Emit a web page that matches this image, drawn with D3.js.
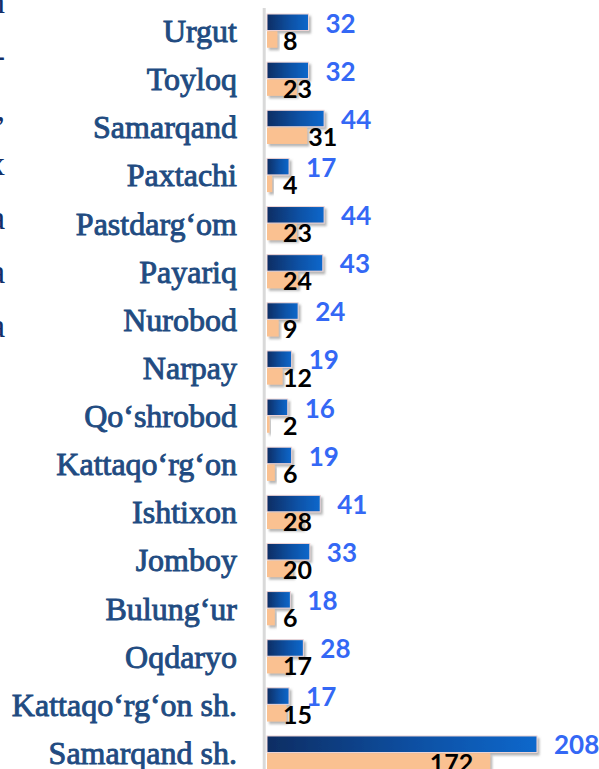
<!DOCTYPE html>
<html>
<head>
<meta charset="utf-8">
<script src="https://cdn.jsdelivr.net/npm/d3@7"></script>
<style>
  body { margin: 0; background: #fff; overflow: hidden; }
</style>
</head>
<body>
<div id="chart"></div>
<script>
// districts of Samarqand region, top to bottom
const districts = ["Urgut", "Toyloq", "Samarqand", "Paxtachi", "Pastdarg‘om", "Payariq", "Nurobod",
    "Narpay", "Qo‘shrobod", "Kattaqo‘rg‘on", "Ishtixon", "Jomboy", "Bulung‘ur", "Oqdaryo",
    "Kattaqo‘rg‘on sh.", "Samarqand sh."];
const blueValues = [32, 32, 44, 17, 44, 43, 24, 19, 16, 19, 41, 33, 18, 28, 17, 208];
const orangeValues = [8, 23, 31, 4, 23, 24, 9, 12, 2, 6, 28, 20, 6, 17, 15, 172];
const seriesKeys = ["blue", "orange"];
// clipped letters of the neighbouring text column at the left edge
const edgeLetters = ["n", "-", ",", "x", "a", "a", "a"];

const W = 599, H = 769;
const step = 48.13;

let svg = d3.select("#chart").append("svg")
    .attr("width", W)
    .attr("height", H);

let defs = svg.append("defs");
let grad = defs.append("linearGradient")
    .attr("id", "blueGrad")
    .attr("x1", "0").attr("x2", "1").attr("y1", "0").attr("y2", "0");
grad.append("stop").attr("offset", "0%").attr("stop-color", "#0b2d63");
grad.append("stop").attr("offset", "55%").attr("stop-color", "#0750a3");
grad.append("stop").attr("offset", "100%").attr("stop-color", "#0a68cc");

let shadow = defs.append("filter")
    .attr("id", "shadow")
    .attr("x", "-10%").attr("y", "-30%").attr("width", "130%").attr("height", "180%");
shadow.append("feDropShadow")
    .attr("dx", 2).attr("dy", 2.5)
    .attr("stdDeviation", 1.3)
    .attr("flood-color", "#777")
    .attr("flood-opacity", 0.55);

let data = districts.map((d, i) => ({ name: d, blue: blueValues[i], orange: orangeValues[i] }));

let x = d3.scaleLinear().domain([0, 250]).range([267, 267 + 250 * 1.298]);

let y = d3.scaleBand()
    .domain(districts)
    .range([6.8, 6.8 + districts.length * step])
    .paddingInner(0.3)
    .paddingOuter(0.15);

let y1 = d3.scaleBand()
    .domain(seriesKeys)
    .range([0, y.bandwidth()])
    .paddingInner(0.04);

// edge fragments
svg.append("g")
    .selectAll("text")
    .data(edgeLetters)
    .join("text")
    .attr("x", 5)
    .attr("y", (d, i) => 13 + i * 54)
    .attr("text-anchor", "end")
    .style("font-family", "'Liberation Serif', serif")
    .style("font-size", "34px")
    .style("fill", "#12306a")
    .text(d => d);

// vertical axis line
svg.append("line")
    .attr("x1", 264.2).attr("x2", 264.2)
    .attr("y1", 8).attr("y2", H)
    .style("stroke", "#d9d9d9")
    .style("stroke-width", 3);

// category labels
svg.append("g")
    .selectAll("text")
    .data(data)
    .join("text")
    .attr("x", 237)
    .attr("y", d => y(d.name) + 28)
    .attr("text-anchor", "end")
    .style("font-family", "'Liberation Serif', serif")
    .style("font-size", "32px")
    .style("fill", "#214b81")
    .style("stroke", "#214b81")
    .style("stroke-width", 0.9)
    .text(d => d.name);

let groups = svg.append("g")
    .selectAll("g")
    .data(data)
    .join("g")
    .attr("transform", d => "translate(0," + y(d.name) + ")");

groups.append("rect")
    .attr("x", x(0))
    .attr("y", y1("blue"))
    .attr("width", d => x(d.blue) - x(0))
    .attr("height", y1.bandwidth())
    .style("fill", "url(#blueGrad)")
    .style("stroke", "#f1d6d6")
    .style("stroke-width", 1)
    .attr("filter", "url(#shadow)");

groups.append("rect")
    .attr("x", x(0))
    .attr("y", y1("orange"))
    .attr("width", d => x(d.orange) - x(0))
    .attr("height", y1.bandwidth())
    .style("fill", "#fac191")
    .attr("filter", "url(#shadow)");

// blue value labels, outside end
groups.append("text")
    .attr("x", d => x(d.blue) + 17)
    .attr("y", y1("blue") + y1.bandwidth() + 2)
    .style("font-family", "Lato, 'Liberation Sans', sans-serif")
    .style("font-weight", 700)
    .style("font-size", "26px")
    .style("fill", "#3468f5")
    .text(d => d.blue);

// black value labels
groups.append("text")
    .attr("class", "orange-lbl")
    .attr("y", y1("orange") + y1.bandwidth() + 2)
    .attr("x", x(0) + 16)
    .style("font-family", "Lato, 'Liberation Sans', sans-serif")
    .style("font-weight", 700)
    .style("font-size", "25px")
    .style("fill", "#000")
    .text(d => d.orange);

svg.selectAll(".orange-lbl").each(function(d) {
    let w = this.getComputedTextLength();
    let left = x(0) + 16;
    let end = x(d.orange);
    if (end - 17 - w > left) {
        // long bar: label sits inside the end
        d3.select(this).attr("x", end - 17).attr("text-anchor", "end");
    } else if (end > left + w * 0.8) {
        d3.select(this).attr("x", end + 1);
    }
});
</script>
</body>
</html>
